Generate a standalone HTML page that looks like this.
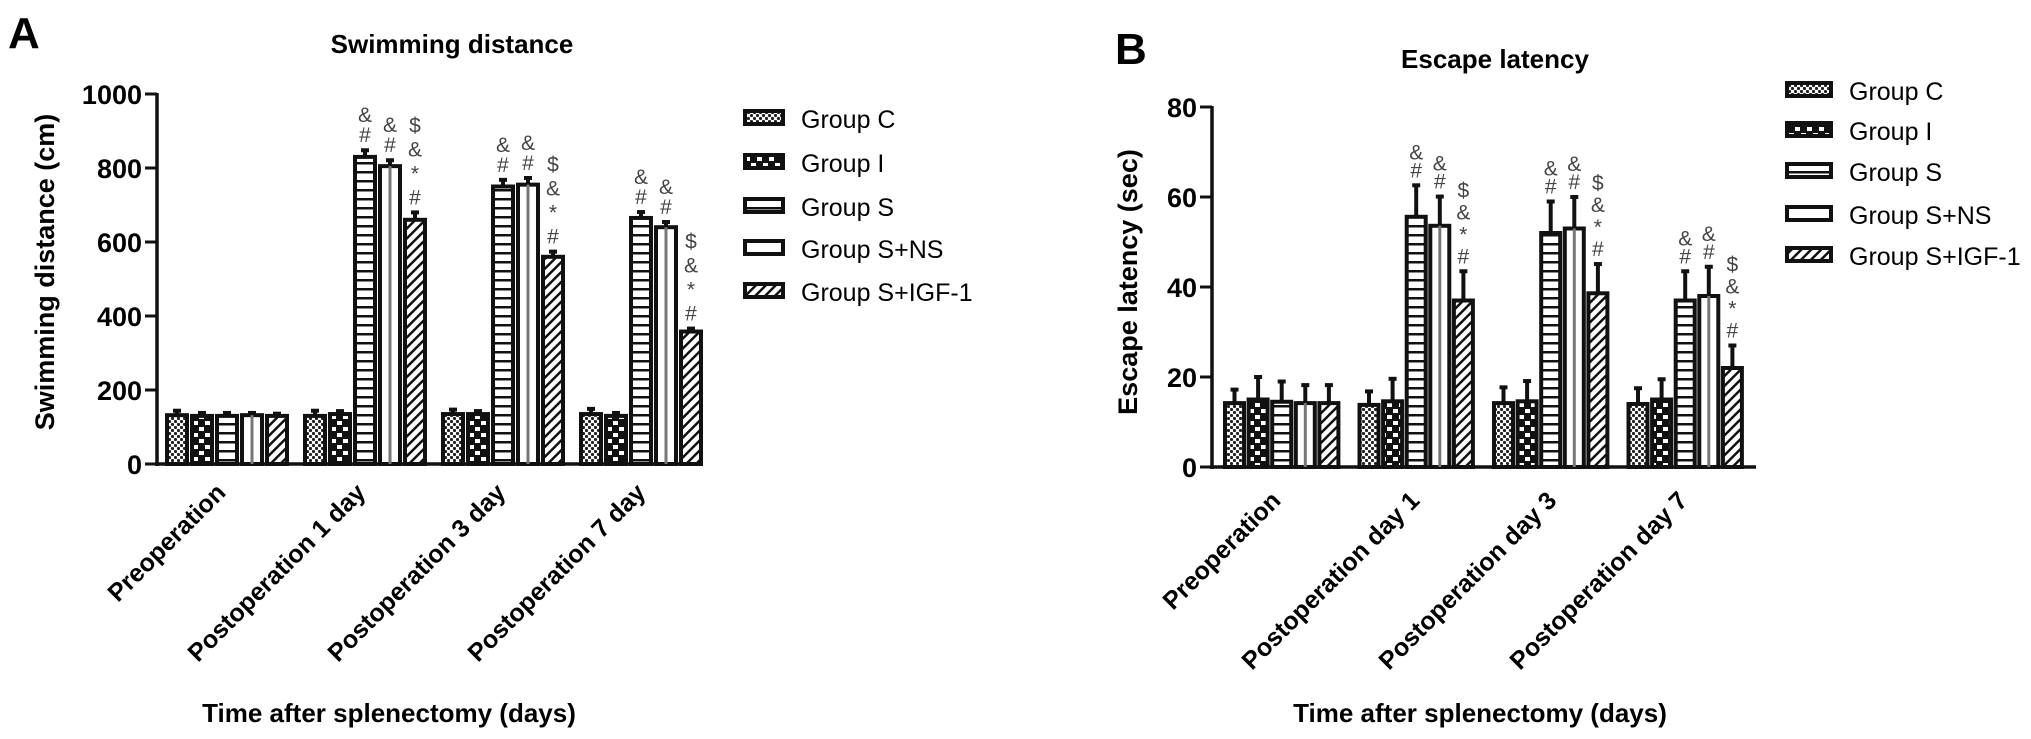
<!DOCTYPE html>
<html><head><meta charset="utf-8"><style>
html,body{margin:0;padding:0;background:#fff;}
svg{display:block;font-family:"Liberation Sans",Arial,sans-serif;}
</style></head><body>
<svg id="fig" width="2031" height="739" viewBox="0 0 2031 739">
<defs>
<pattern id="pC" width="6" height="6" patternUnits="userSpaceOnUse"><rect width="6" height="6" fill="#fff"/><circle cx="1.5" cy="1.5" r="1.6" fill="#222"/><circle cx="4.5" cy="4.5" r="1.6" fill="#222"/></pattern>
<pattern id="pI" width="12" height="12" patternUnits="userSpaceOnUse"><rect width="12" height="12" fill="#111"/><rect x="1" y="1" width="5" height="4" fill="#fff"/><rect x="7" y="7" width="5" height="4" fill="#fff"/></pattern>
<pattern id="pS" width="10" height="9" patternUnits="userSpaceOnUse"><rect width="10" height="9" fill="#fff"/><rect y="0" width="10" height="2.5" fill="#111"/></pattern>
<pattern id="pN" width="20" height="10" patternUnits="userSpaceOnUse"><rect width="20" height="10" fill="#fff"/></pattern>
<pattern id="pG" width="7" height="7" patternUnits="userSpaceOnUse" patternTransform="rotate(45)"><rect width="7" height="7" fill="#fff"/><rect width="2.5" height="7" fill="#111"/></pattern>
</defs>
<g id="panelA"></g>
<g id="panelB"></g>
</svg>
<script>
const groups = ["Group C","Group I","Group S","Group S+NS","Group S+IGF-1"];
const categoriesA = ["Preoperation","Postoperation 1 day","Postoperation 3 day","Postoperation 7 day"];
const categoriesB = ["Preoperation","Postoperation day 1","Postoperation day 3","Postoperation day 7"];
// values[category][group]
const meanA = [[132,130,130,132,130],[130,135,830,805,660],[135,135,750,755,560],[135,130,665,640,358]];
const errA  = [[12,8,8,6,6],[14,8,18,16,20],[12,8,18,18,14],[14,8,16,14,8]];
const ticksA = [0,200,400,600,800,1000];
const marksA = [[[],[],[],[],[]],[[],[],["#","&"],["#","&"],["#","*","&","$"]],[[],[],["#","&"],["#","&"],["#","*","&","$"]],[[],[],["#","&"],["#","&"],["#","*","&","$"]]];
const meanB = [[14.2,15,14.5,14.2,14.2],[13.8,14.6,55.6,53.6,37],[14.2,14.6,52,53,38.6],[14,15,37,38,22]];
const errB  = [[3,5,4.5,4,4],[3,5,7,6.5,6.5],[3.5,4.5,7,7,6.5],[3.5,4.5,6.5,6.5,5]];
const ticksB = [0,20,40,60,80];
const marksB = [[[],[],[],[],[]],[[],[],["#","&"],["#","&"],["#","*","&","$"]],[[],[],["#","&"],["#","&"],["#","*","&","$"]],[[],[],["#","&"],["#","&"],["#","*","&","$"]]];

const NS="http://www.w3.org/2000/svg";
const fills=["url(#pC)","url(#pI)","url(#pS)","url(#pN)","url(#pG)"];
function mk(parent,tag,attrs,text){const e=document.createElementNS(NS,tag);for(const k in attrs)e.setAttribute(k,attrs[k]);if(text!==undefined)e.textContent=text;parent.appendChild(e);return e;}

function panel(root,cfg){
  const y=v=>cfg.y0-(v-0)*(cfg.y0-cfg.yTop)/cfg.max;
  let t=mk(root,'text',{x:cfg.letterX,y:cfg.letterY,'font-size':44,'font-weight':'bold'},cfg.letter);
  
  
  t=mk(root,'text',{x:cfg.titleX,y:cfg.titleY,'font-size':26,'font-weight':'bold','text-anchor':'middle'},cfg.title);
  
  
  t=mk(root,'text',{x:0,y:0,'font-size':27,'font-weight':'bold','text-anchor':'middle',transform:`translate(${cfg.ylabX},${cfg.ylabY}) rotate(-90)`},cfg.ylab);
  
  
  t=mk(root,'text',{x:cfg.xtitX,y:722,'font-size':26,'font-weight':'bold','text-anchor':'middle'},"Time after splenectomy (days)");
  
  
  let a=mk(root,'line',{x1:cfg.ax,y1:cfg.yTop-1,x2:cfg.ax,y2:cfg.y0+2,stroke:'#111','stroke-width':3.5});
  
  
  a=mk(root,'line',{x1:cfg.ax-2,y1:cfg.y0,x2:cfg.axEnd,y2:cfg.y0,stroke:'#111','stroke-width':3.5});
  
  
  cfg.ticks.forEach(v=>{
    const tk=mk(root,'line',{x1:cfg.ax-12,y1:y(v),x2:cfg.ax,y2:y(v),stroke:'#111','stroke-width':3});
    
    
    const tl=mk(root,'text',{x:cfg.ax-15,y:y(v)+10,'font-size':27,'font-weight':'bold','text-anchor':'end'},String(v));
    
    
  });
  cfg.cats.forEach((c,ci)=>{
    const gx=cfg.gx0+ci*cfg.gstride;
    cfg.mean[ci].forEach((m,gi)=>{
      const bx=gx+gi*cfg.bstride, w=cfg.bw, top=y(m), et=y(m+cfg.err[ci][gi]);
      const cx=bx+w/2;
      const eb=mk(root,'line',{x1:cx,y1:top,x2:cx,y2:et,stroke:'#111','stroke-width':4});
      
      
      const cap=mk(root,'line',{x1:cx-4,y1:et,x2:cx+4,y2:et,stroke:'#111','stroke-width':4});
      
      
      const r=mk(root,'rect',{x:bx,y:top,width:w,height:cfg.y0-top,fill:fills[gi],stroke:'#111','stroke-width':4});
      
      
      if(gi===3){const vl=mk(root,'line',{x1:cx,y1:top,x2:cx,y2:cfg.y0,stroke:'#777','stroke-width':3});
        
        }
      const n=cfg.marks[ci][gi].length;
      const step=n>2?cfg.mstep+4:cfg.mstep;
      cfg.marks[ci][gi].forEach((s,k)=>{
        const mt=mk(root,'text',{x:cx,y:et-8-k*step,'font-size':21,fill:'#444','text-anchor':'middle'},s);
        
        
      });
    });
    const lx=cfg.labEnd[ci];
    const xl=mk(root,'text',{x:0,y:0,'font-size':25,'font-weight':'bold','text-anchor':'end',transform:`translate(${lx},${cfg.labY}) rotate(-45)`},c);
    
    
  });
  groups.forEach((g,i)=>{
    const ly=cfg.legY[i];
    const lb=mk(root,'rect',{x:cfg.legX,y:ly-8,width:cfg.legW-4,height:13,fill:fills[i],stroke:'#111','stroke-width':4});
    
    
    const lt=mk(root,'text',{x:cfg.legX+cfg.legW+14,y:ly+9,'font-size':25},g);
    
    
  });
}
panel(document.getElementById('panelA'),{letter:'A',letterX:8,letterY:48,title:'Swimming distance',titleX:452,titleY:53,
  ylab:'Swimming distance (cm)',ylabX:54,ylabY:272,xtitX:389,ax:157,axEnd:700,y0:464,yTop:94,max:1000,ticks:ticksA,
  cats:categoriesA,mean:meanA,err:errA,marks:marksA,gx0:167,gstride:138,bstride:25,bw:20,mstep:20,
  labEnd:[227,367,507,647],labY:494,legX:745,legW:42,legY:[119,163,207,249,292]});
panel(document.getElementById('panelB'),{letter:'B',letterX:1115,letterY:64,title:'Escape latency',titleX:1495,titleY:68,
  ylab:'Escape latency (sec)',ylabX:1137,ylabY:282,xtitX:1480,ax:1212,axEnd:1756,y0:467,yTop:107,max:80,ticks:ticksB,
  cats:categoriesB,mean:meanB,err:errB,marks:marksB,gx0:1225,gstride:134.5,bstride:23.6,bw:19,mstep:18,
  labEnd:[1282,1421,1558,1689],labY:502,legX:1787,legW:48,legY:[91,131,172,215,256]});
</script>
</body></html>
